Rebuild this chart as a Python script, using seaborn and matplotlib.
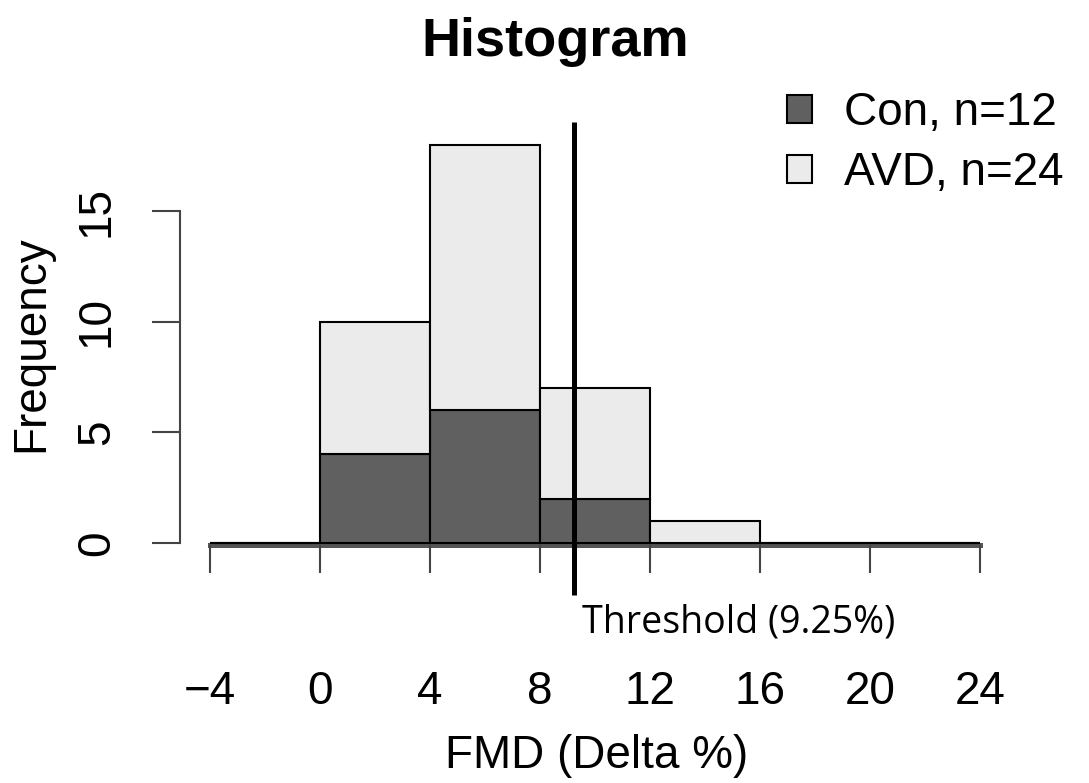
import matplotlib
matplotlib.use("Agg")
import matplotlib.pyplot as plt
from matplotlib.patches import Patch
import seaborn as sns
import pandas as pd
import numpy as np

# ---- data ----
bin_edges = [-4, 0, 4, 8, 12, 16, 20, 24]
bin_centers = [-2, 2, 6, 10, 14, 18, 22]
con_counts = [0, 4, 6, 2, 0, 0, 0]
avd_counts = [0, 6, 12, 5, 1, 0, 0]
groups = ["Con", "AVD"]
legend_labels = ["Con, n=12", "AVD, n=24"]
x_ticks = [-4, 0, 4, 8, 12, 16, 20, 24]
y_ticks = [0, 5, 10, 15]
threshold = 9.25
threshold_label = "Threshold (9.25%)"

df = pd.DataFrame({
    "FMD": bin_centers * 2,
    "count": con_counts + avd_counts,
    "group": ["Con"] * len(bin_centers) + ["AVD"] * len(bin_centers),
})

sns.set_style("white")
plt.rcParams["font.family"] = ["Liberation Sans", "DejaVu Sans"]
plt.rcParams["text.color"] = "black"
plt.rcParams["axes.labelcolor"] = "black"

W, H = 1089, 783
fig = plt.figure(figsize=(W / 100, H / 100), dpi=100)
# axes occupies pixels x 140..1000, y 100..600 (from top)
ax = fig.add_axes([140 / W, (H - 600) / H, 860 / W, 500 / H])

colors = {"Con": "#606060", "AVD": "#ebebeb"}
sns.histplot(data=df, x="FMD", weights="count", hue="group",
             hue_order=["AVD", "Con"], bins=bin_edges, multiple="stack",
             palette=colors, alpha=1, edgecolor="black", linewidth=1.5,
             legend=False, ax=ax)

# scale mapping: x px = 320 + 27.5*x ; y px = 543 - 22.13*y
ax.set_xlim((140 - 320) / 27.5, (1000 - 320) / 27.5)
ax.set_ylim((543 - 600) / 22.13, (543 - 100) / 22.13)

for s in ["top", "right"]:
    ax.spines[s].set_visible(False)
ax.spines["left"].set_position(("data", (180 - 320) / 27.5))
ax.spines["left"].set_bounds(0, 15)
ax.spines["left"].set_color("#444444")
ax.spines["left"].set_linewidth(1.5)
ax.spines["bottom"].set_position(("data", -0.1))
ax.spines["bottom"].set_bounds(-4, 24)
ax.spines["bottom"].set_color("#555555")
ax.spines["bottom"].set_linewidth(3.6)
ax.spines["bottom"].set_zorder(0.5)

ax.set_xticks(x_ticks)
ax.set_xticklabels([str(t).replace("-", "\u2212") for t in x_ticks])
ax.set_yticks(y_ticks)
ax.tick_params(axis="x", direction="out", length=20, width=1.5,
               color="#444444", labelcolor="black", pad=70, labelsize=33,
               bottom=True)
ax.tick_params(axis="y", direction="out", length=20, width=1.5,
               color="#444444", labelcolor="black", pad=24, labelsize=33,
               left=True, labelrotation=90)
for lab in ax.get_yticklabels():
    lab.set_verticalalignment("center")

ax.set_xlabel("FMD (Delta %)", fontsize=33)
ax.xaxis.set_label_coords((597 - 140) / 860, (600 - 734) / 500)
ax.set_ylabel("Frequency", fontsize=33)
ax.yaxis.set_label_coords((53 - 140) / 860, (600 - 344) / 500)

ax.set_title("Histogram", fontsize=39, fontweight="bold",
             x=(555 - 140) / 860, y=(600 - 50) / 500, va="center")

# threshold line
ax.vlines(threshold, (543 - 595) / 22.13, (543 - 122) / 22.13,
          colors="black", linewidth=3.6, clip_on=False, zorder=5)
ax.text(threshold + (582 - 574) / 27.5, (543 - 622) / 22.13, threshold_label,
        fontsize=27, family=["Open Sans", "DejaVu Sans"], ha="left",
        va="center", clip_on=False)

handles = [Patch(facecolor=colors[g], edgecolor="black", linewidth=1.5)
           for g in groups]
ax.legend(handles, legend_labels, loc="upper left",
          bbox_to_anchor=((787 - 140) / 860, (600 - 91) / 500),
          frameon=False, fontsize=33, handlelength=0.55, handleheight=0.55,
          handletextpad=0.7, labelspacing=0.35, borderaxespad=0,
          borderpad=0)

fig.savefig("out.png", dpi=100)
